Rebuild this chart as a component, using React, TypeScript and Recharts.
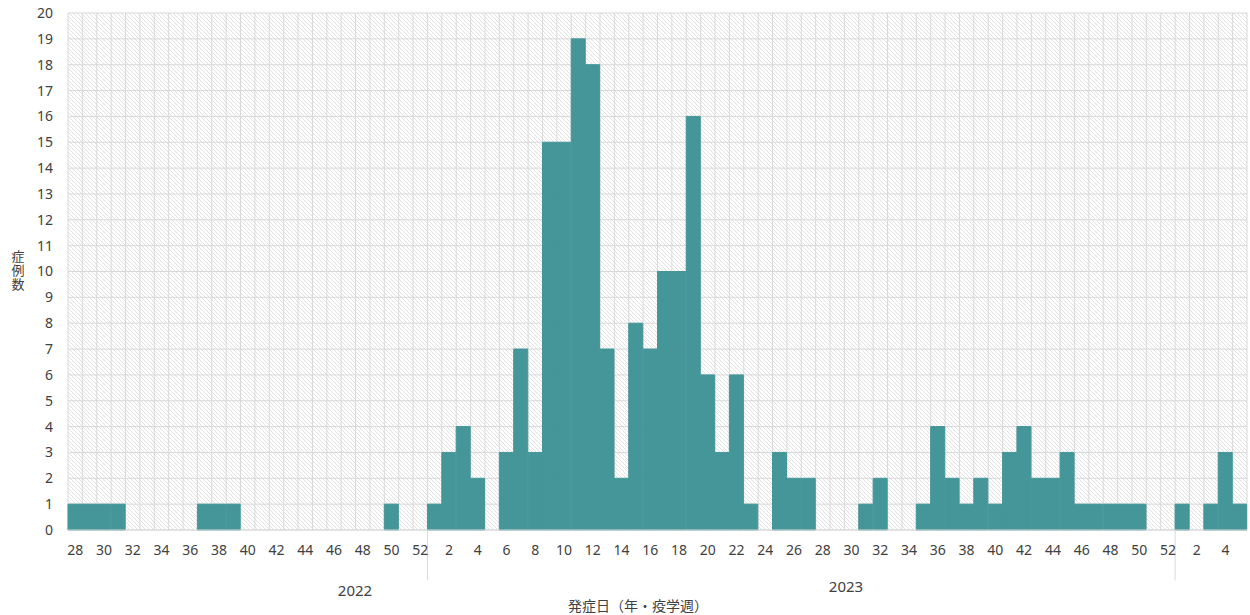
import { BarChart, Bar, XAxis, YAxis, CartesianGrid, ReferenceLine } from 'recharts';

// 週別症例数（発症日ベース）
const years = [2022, 2023, 2024];
const startWeeks = [28, 1, 1];

// 2022年 第28週〜第52週
const cases2022 = [1, 1, 1, 1, 0, 0, 0, 0, 0, 1, 1, 1, 0, 0, 0, 0, 0, 0, 0, 0, 0, 0, 1, 0, 0];
// 2023年 第1週〜第52週
const cases2023 = [
  1, 3, 4, 2, 0, 3, 7, 3, 15, 15,
  19, 18, 7, 2, 8, 7, 10, 10, 16, 6,
  3, 6, 1, 0, 3, 2, 2, 0, 0, 0,
  1, 2, 0, 0, 1, 4, 2, 1, 2, 1,
  3, 4, 2, 2, 3, 1, 1, 1, 1, 1,
  0, 0,
];
// 2024年 第1週〜第5週
const cases2024 = [1, 0, 1, 3, 1];

const yTicks = [0, 1, 2, 3, 4, 5, 6, 7, 8, 9, 10, 11, 12, 13, 14, 15, 16, 17, 18, 19, 20];
const yearBoundaries = ['2023-1', '2024-1'];

const casesByYear = [cases2022, cases2023, cases2024];
const data = years.flatMap((year, yi) =>
  casesByYear[yi].map((cases, i) => {
    const week = startWeeks[yi] + i;
    return { key: `${year}-${week}`, year, week, cases };
  })
);

const colors = {
  bar: '#449699',
  grid: '#d9d9d9',
  hatch: '#e2e2e2',
  text: '#404040',
};

const font = '"Noto Sans", "Noto Sans CJK JP", sans-serif';

const weekLabel = (key: string) => {
  const week = Number(key.split('-')[1]);
  return week % 2 === 0 ? String(week) : '';
};

export default function App() {
  const n = data.length;
  return (
    <div style={{ position: 'absolute', left: 0, top: 0, width: 1250, height: 615, background: '#fff', fontFamily: font }}>
      <BarChart
        width={1250}
        height={615}
        data={data}
        margin={{ top: 13, right: 3, bottom: 55, left: 0 }}
        barCategoryGap={0}
        barGap={0}
      >
        <defs>
          <pattern id="hatch" width="4" height="4" patternUnits="userSpaceOnUse">
            <rect width="4" height="4" fill="#ffffff" />
            <path d="M0,0 L4,4 M-1,3 L1,5 M3,-1 L5,1" stroke={colors.hatch} strokeWidth={1} />
          </pattern>
        </defs>
        <CartesianGrid
          stroke={colors.grid}
          fill="url(#hatch)"
          fillOpacity={1}
          verticalCoordinatesGenerator={({ offset }: any) =>
            Array.from({ length: n + 1 }, (_, i) => offset.left + (i * offset.width) / n)
          }
        />
        <XAxis
          dataKey="key"
          interval={0}
          tickFormatter={weekLabel}
          tickLine={false}
          axisLine={{ stroke: colors.grid }}
          tickMargin={9}
          height={30}
          tick={{ fill: colors.text, fontSize: 14, fontFamily: font }}
        />
        <YAxis
          domain={[0, 20]}
          ticks={yTicks}
          interval={0}
          tickLine={false}
          axisLine={false}
          tickMargin={9}
          width={68}
          tick={{ fill: colors.text, fontSize: 14, fontFamily: font }}
        />
        <Bar dataKey="cases" fill={colors.bar} stroke={colors.bar} strokeWidth={1} isAnimationActive={false} />
        {yearBoundaries.map((k) => (
          <ReferenceLine
            key={k}
            segment={[{ x: k, y: 0 }, { x: k, y: -1.95 }]}
            position="start"
            ifOverflow="visible"
            stroke={colors.grid}
            strokeWidth={1}
          />
        ))}
      </BarChart>

      {/* 年ラベル */}
      <div style={{ position: 'absolute', left: 355, top: 590, transform: 'translate(-50%, -50%)', fontSize: 15, color: colors.text }}>
        2022
      </div>
      <div style={{ position: 'absolute', left: 846, top: 586, transform: 'translate(-50%, -50%)', fontSize: 15, color: colors.text }}>
        2023
      </div>

      {/* 軸タイトル */}
      <div style={{ position: 'absolute', left: 638, top: 605, transform: 'translate(-50%, -50%)', fontSize: 14, color: colors.text, whiteSpace: 'nowrap' }}>
        発症日（年・疫学週）
      </div>
      <div
        style={{
          position: 'absolute',
          left: 18,
          top: 271,
          transform: 'translate(-50%, -50%)',
          fontSize: 13,
          letterSpacing: 1,
          writingMode: 'vertical-rl',
          textOrientation: 'upright',
          color: colors.text,
          whiteSpace: 'nowrap',
        }}
      >
        症例数
      </div>
    </div>
  );
}
